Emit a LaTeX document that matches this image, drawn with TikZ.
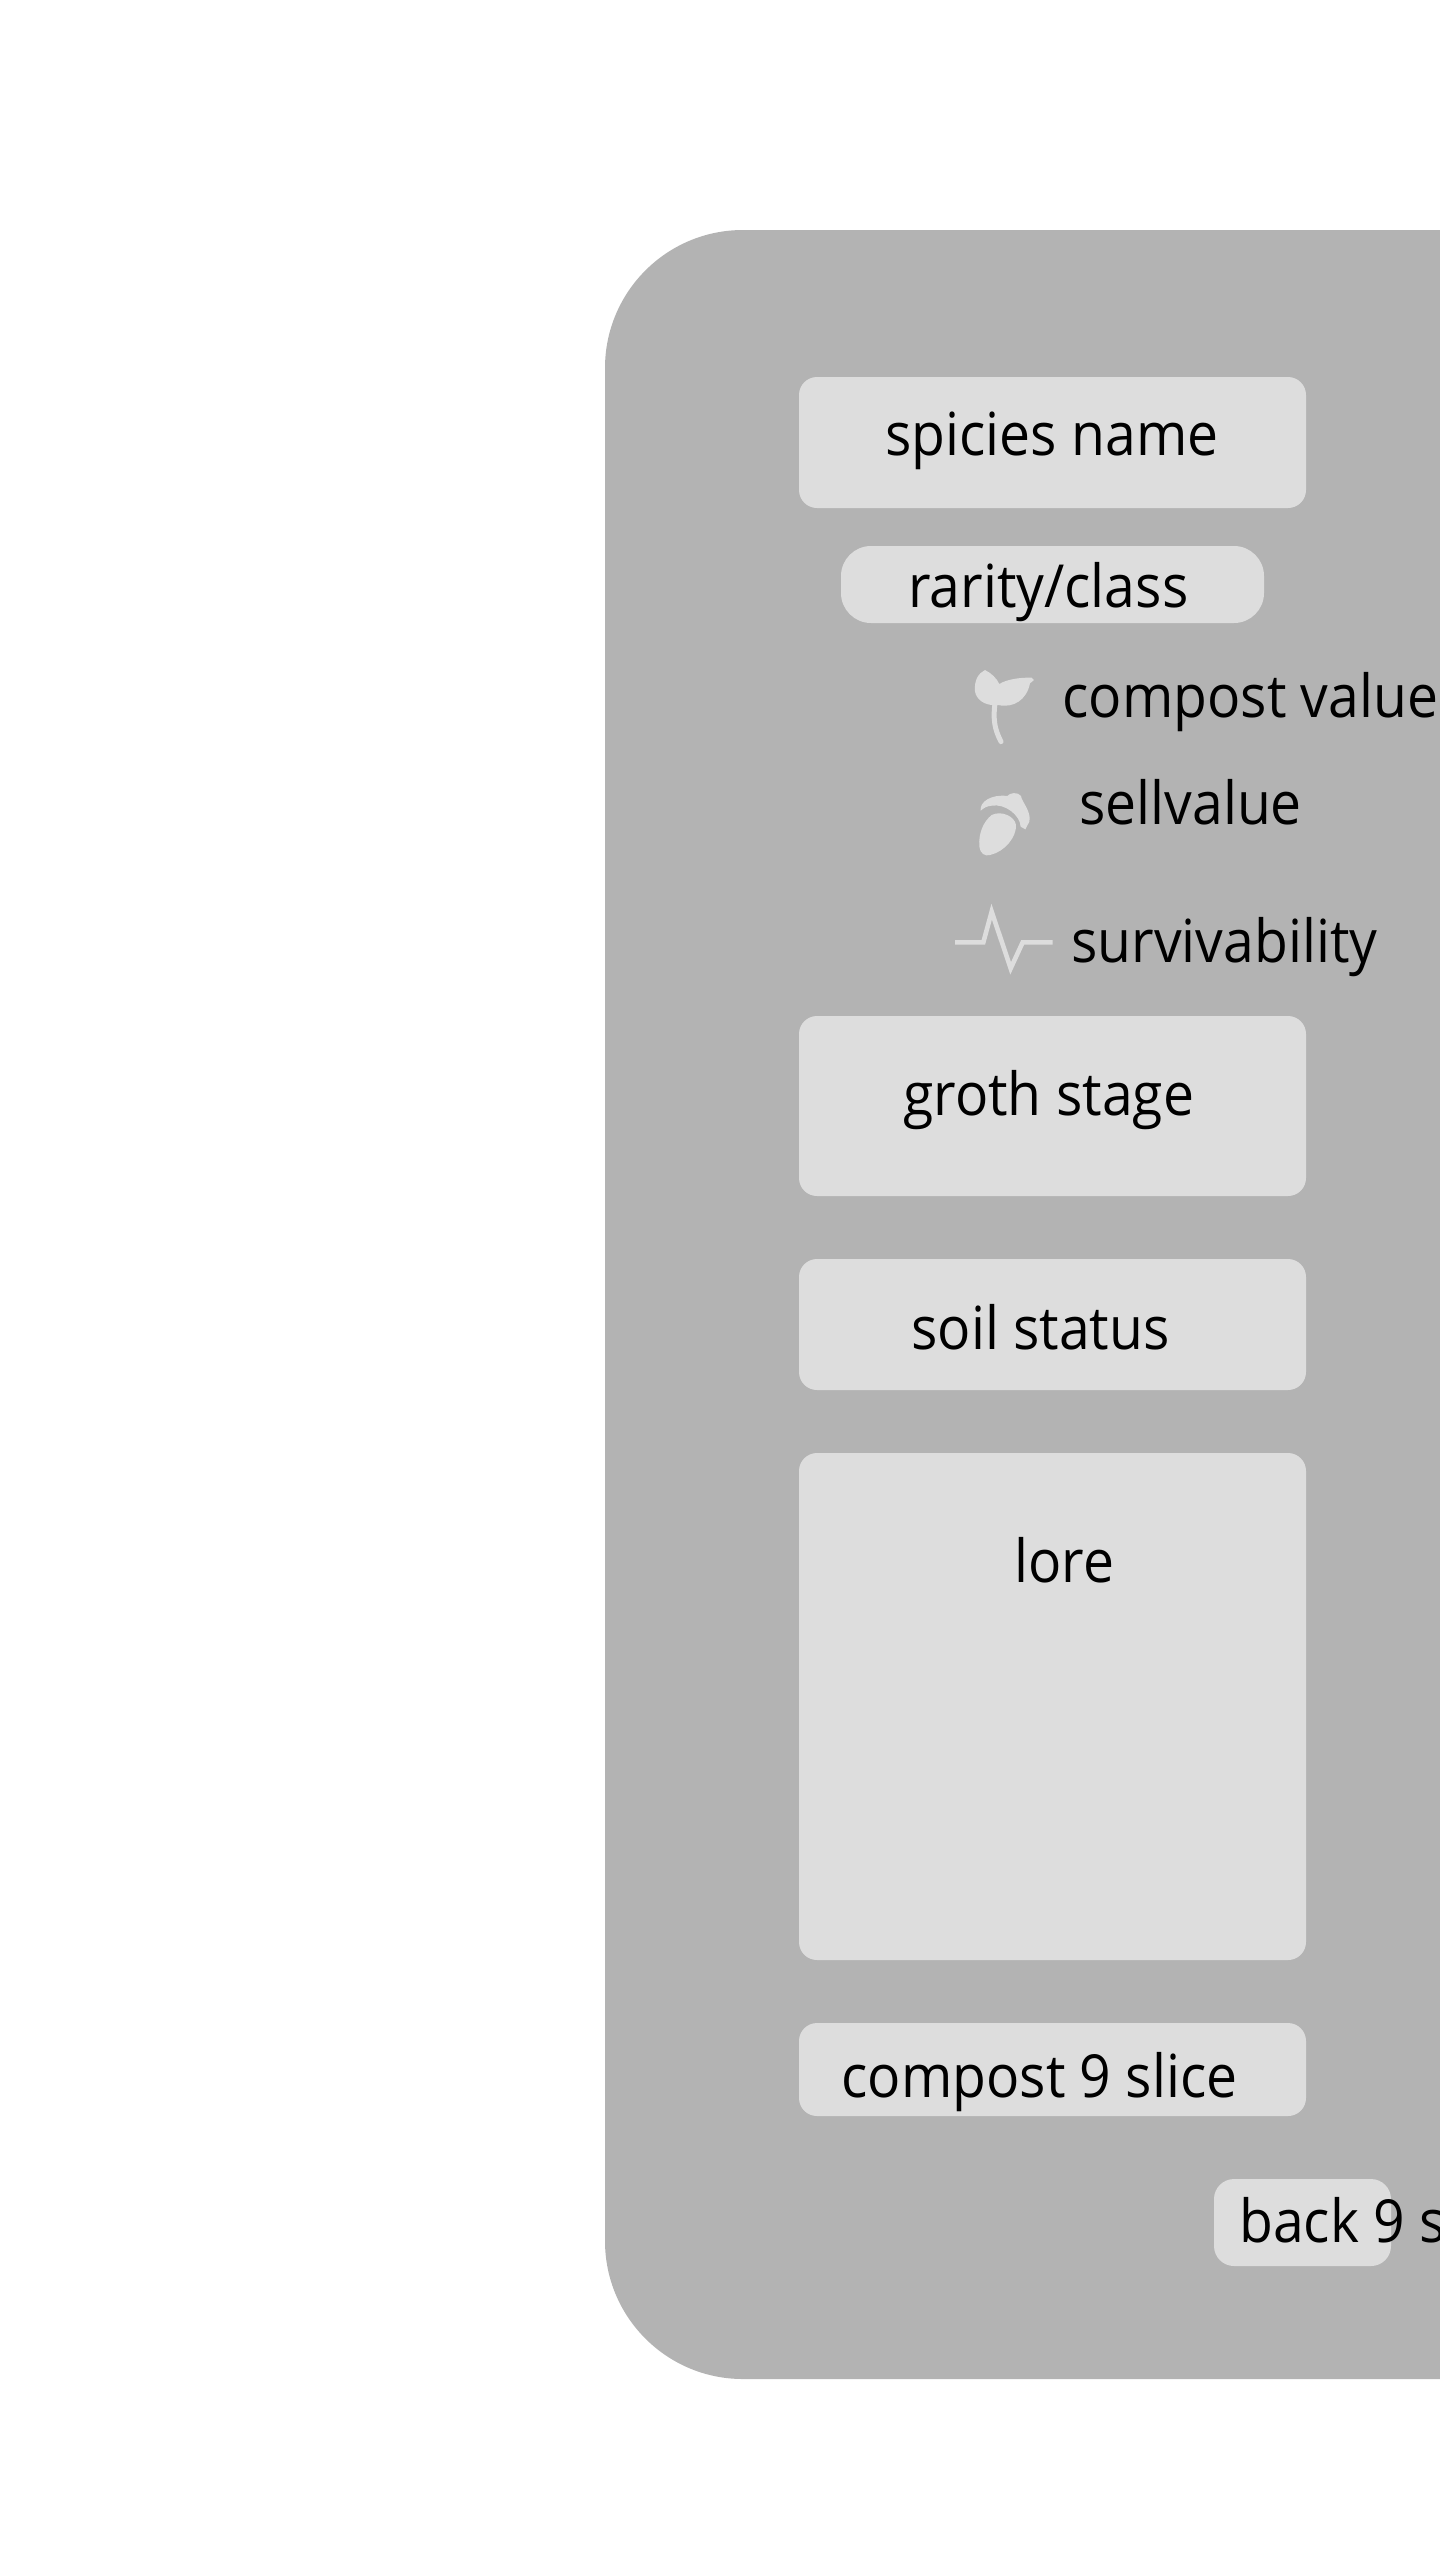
\documentclass[tikz,border=0pt]{standalone}
\usepackage{fontspec}
\setmainfont[FakeStretch=0.93]{Open Sans}
\definecolor{panelgray}{HTML}{B3B3B3}
\definecolor{slotgray}{HTML}{DDDDDD}
\tikzset{
  panelfill/.style={fill=panelgray},
  slotfill/.style={fill=slotgray},
  iconline/.style={draw=slotgray,line width=2.3pt},
  caption/.style={anchor=base west,inner sep=0pt,text=black,font=\fontsize{29.7}{35}\selectfont}
}
\begin{document}
\begin{tikzpicture}[x=0.5pt,y=-0.5pt]
\useasboundingbox[fill=white] (0,0) rectangle (1440,2560);
\begin{scope}
\clip (0,0) rectangle (1440,2560);
% background panel
\fill[panelfill, rounded corners=69pt] (605,230) rectangle (1700,2379);
% slots
\fill[slotfill, rounded corners=9pt] (799,377) rectangle (1306,508);
\fill[slotfill, rounded corners=15pt] (841,546) rectangle (1264,623);
\fill[slotfill, rounded corners=9pt] (799,1016) rectangle (1306,1196);
\fill[slotfill, rounded corners=9pt] (799,1259) rectangle (1306,1390);
\fill[slotfill, rounded corners=9pt] (799,1453) rectangle (1306,1960);
\fill[slotfill, rounded corners=9pt] (799,2023) rectangle (1306,2116);
\fill[slotfill, rounded corners=10pt] (1214,2179) rectangle (1391,2266);
% icons
\begin{scope}[shift={(920,640)},scale=1/3]
\fill[slotfill] (195,90) .. controls (175,100) and (162,120) .. (165,155) .. controls (170,180) and (195,195) .. (220,195) -- (235,195) .. controls (280,205) and (320,180) .. (330,130) -- (342,120) -- (335,113) .. controls (300,112) and (260,118) .. (238,132) .. controls (230,115) and (215,100) .. (195,90) -- cycle;
\draw[iconline, line width=2.5pt, line cap=round] (225,190) .. controls (218,240) and (225,270) .. (243,305);
\fill[slotfill] (215,525) .. controls (190,545) and (175,580) .. (178,620) .. controls (180,640) and (195,650) .. (210,645) .. controls (255,635) and (290,590) .. (288,555) .. controls (285,530) and (245,510) .. (215,525) -- cycle;
\fill[slotfill] (182,512) .. controls (178,485) and (215,462) .. (262,468) .. controls (268,458) and (295,455) .. (303,468) .. controls (305,485) and (335,515) .. (328,545) -- (316,568) -- (302,560) .. controls (300,525) and (255,490) .. (215,497) .. controls (200,498) and (190,505) .. (182,512) -- cycle;
\draw[iconline] (105,907) -- (190,907) -- (215,815) -- (272,985) -- (308,907) -- (398,907);
\end{scope}
% captions
\node (spicies) [caption] at (885,455) {spicies name};
\node (rarity) [caption] at (908,607) {rarity/class};
\node (compostvalue) [caption] at (1062,717) {compost value};
\node (sellvalue) [caption] at (1079,824) {sellvalue};
\node (survivability) [caption] at (1071,962) {survivability};
\node (groth) [caption] at (903,1115) {groth stage};
\node (soil) [caption] at (911,1349) {soil status};
\node (lore) [caption] at (1014,1582) {lore};
\node (compostslice) [caption] at (841,2097) {compost 9 slice};
\node (backslice) [caption] at (1239,2242) {back 9 slice};
\end{scope}
\end{tikzpicture}
\end{document}
